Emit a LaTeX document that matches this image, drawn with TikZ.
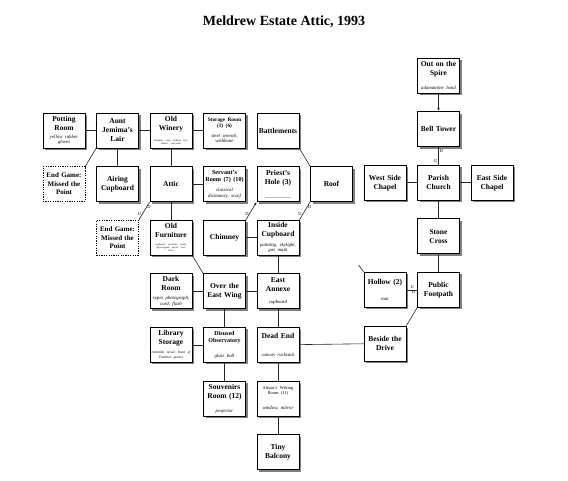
\documentclass[tikz,border=0pt]{standalone}
\usepackage{fontspec}
\setmainfont{Liberation Serif}
\usepackage{xcolor}
\usepackage{tikz}
\usetikzlibrary{positioning,shadows,arrows.meta}
\tikzset{>={Latex[length=3.2pt,width=2.6pt]}}
\newcommand{\descfont}{\normalfont\itshape\fontsize{4.8}{5.4}\selectfont}
\newcommand{\tinydesc}{\fontsize{2.5}{3}\selectfont}
\newcommand{\roomitems}[2][4pt]{\par\vspace{#1}{\descfont #2\par}}

\begin{document}
\begin{tikzpicture}[x=1pt, y=-1pt,
node distance=53.6pt and 53.5pt, on grid,
room/.style={rectangle, draw=black, line width=0.8pt, fill=white, minimum width=42pt, minimum height=35pt, text width=40pt, inner sep=1pt, align=center, font=\bfseries\fontsize{7.5}{9}\selectfont, drop shadow={shadow xshift=2pt, shadow yshift=-2pt, fill=black!50, opacity=1}},
endgame/.style={rectangle, draw=black, line width=0.8pt, dash pattern=on 1.2pt off 1.2pt, fill=white, minimum width=42pt, minimum height=35pt, text width=40pt, inner sep=1pt, align=center, font=\bfseries\fontsize{7}{8.5}\selectfont},
link/.style={draw=black!85, line width=0.6pt},
dirlabel/.style={font=\fontsize{4.5}{5}\selectfont, inner sep=0.8pt},
]
\useasboundingbox (0,0) rectangle (568,481);
\node[font=\bfseries\fontsize{14}{16}\selectfont] (title) at (284,22) {Meldrew Estate Attic, 1993};

%Rooms
\node[room](potting) at (64,130.5) {Potting\\Room\roomitems[2.5pt]{yellow rubber\\gloves}};
\node[room](jemima)[right=of potting]{Aunt\\Jemima's\\Lair};
\node[room](winery)[right=of jemima]{Old\\Winery\roomitems[7pt]{\tinydesc dirigible, rusty holding bolt,\\battery, suncream}};
\node[room](storage)[right=of winery]{\fontsize{5.3}{6}\selectfont Storage Room\\(1) (6)\roomitems[4pt]{steel wrench,\\wishbone}};
\node[room](battlements)[right=of storage]{Battlements};
\node[room](spire) at (438.5,75.5) {Out on the\\Spire\roomitems[9pt]{adamantine hand}};
\node[room](belltower)[below=of spire]{Bell Tower};

\node[room](airing)[below=of jemima]{Airing\\Cupboard};
\node[endgame](endgameA)[left=of airing]{End Game:\\Missed the\\Point};
\node[room](attic)[below=of winery]{Attic};
\node[room](servant)[below=of storage]{\fontsize{6.2}{7}\selectfont Servant's\\Room (7) (10)\roomitems[5pt]{classical\\dictionary, scarf}};
\node[room](priest)[below=of battlements]{Priest's\\Hole (3)\roomitems[8pt]{\textcolor{black!25}{\rule{26pt}{0.5pt}}}};
\node[room](roof)[right=of priest]{Roof};
\node[room](church)[below=of belltower]{Parish\\Church};
\node[room](westchapel)[left=of church]{West Side\\Chapel};
\node[room](eastchapel)[right=of church]{East Side\\Chapel};

\node[room](furniture)[below=of attic]{Old\\Furniture\roomitems[5pt]{\tinydesc cupboard, wardrobe, bottle,\\gift-wrapped parcel, bed,\\sheet}};
\node[endgame](endgameB)[left=of furniture]{End Game:\\Missed the\\Point};
\node[room](chimney)[below=of servant]{Chimney};
\node[room](insidecup)[below=of priest]{Inside\\Cupboard\roomitems[4pt]{painting, skylight,\\gas mask}};
\node[room](stonecross)[below=of church]{Stone\\Cross};

\node[room](darkroom)[below=of furniture]{Dark\\Room\roomitems[3.5pt]{sepia photograph,\\cord, flash}};
\node[room](eastwing)[right=of darkroom]{Over the\\East Wing};
\node[room](annexe)[right=of eastwing]{East\\Annexe\roomitems[6.5pt]{cupboard}};
\node[room](footpath)[below=of stonecross]{Public\\Footpath};
\node[room](hollow)[left=of footpath]{Hollow (2)\roomitems[11pt]{mat}};

\node[room](library)[below=of darkroom]{Library\\Storage\roomitems[4.5pt]{\fontsize{3.6}{4.4}\selectfont romantic novel, book of\\Twenties poetry}};
\node[room](observatory)[below=of eastwing]{\fontsize{6}{7}\selectfont Disused\\Observatory\roomitems[9pt]{glass ball}};
\node[room](deadend)[below=of annexe]{Dead End\roomitems[12pt]{canvas rucksack}};
\node[room](drive)[below=of hollow]{Beside the\\Drive};

\node[room](souvenirs)[below=of observatory]{Souvenirs\\Room (12)\roomitems[8.5pt]{projector}};
\node[room](alison)[below=of deadend]{\normalfont\fontsize{4.4}{5.4}\selectfont Alison's Writing\\Room (11)\roomitems[9.5pt]{window, mirror}};
\node[room](balcony)[below=of alison]{Tiny\\Balcony};

\coordinate[above left=7pt and 5pt of hollow.north west](hollowstub);

%Lines
\draw[link] (potting) -- (jemima);
\draw[link] (jemima) -- (winery);
\draw[link] (winery) -- (storage);
\draw[link] (jemima) -- (airing);
\draw[link] (jemima.south west) -- (endgameA.north east);
\draw[link] (winery) -- (attic);
\draw[link] (attic) -- (servant);
\draw[link] (battlements.south east) -- (roof.north west);
\draw[link] (attic) -- (furniture);
\draw[link] (attic.south west) -- node[pos=0.3,right,dirlabel]{D} node[pos=0.7,left,dirlabel]{U} (endgameB.north east);
\draw[link] (furniture.south east) -- (eastwing.north west);
\draw[link,->] (chimney.north east) -- node[pos=0.35,left,dirlabel]{D} (priest.south west);
\draw[link] (roof.south west) -- node[pos=0.3,right,dirlabel]{D} node[pos=0.7,left,dirlabel]{U} (insidecup.north east);
\draw[link] (chimney) -- (insidecup);
\draw[link] (insidecup) -- (annexe);
\draw[link] (darkroom) -- (eastwing);
\draw[link] (eastwing) -- (annexe);
\draw[link] (eastwing) -- (observatory);
\draw[link] (annexe) -- (deadend);
\draw[link] (library) -- (observatory);
\draw[link] (observatory) -- (souvenirs);
\draw[link] (deadend) -- (alison);
\draw[link] (deadend) -- (drive);
\draw[link] (alison) -- (balcony);
\draw[link,->] (spire) -- (belltower);
\draw[link] (belltower) -- node[pos=0.2,right,dirlabel]{D} node[pos=0.8,left,dirlabel]{U} (church);
\draw[link] (westchapel) -- (church);
\draw[link] (church) -- (eastchapel);
\draw[link] (church) -- (stonecross);
\draw[link] (stonecross) -- (footpath);
\draw[link] (hollow) -- node[pos=0.55,above,dirlabel]{U} node[pos=0.65,below,dirlabel]{D} (footpath);
\draw[link] (footpath.south west) -- (drive.north east);
\draw[link] (hollow.north west) -- (hollowstub);
\end{tikzpicture}
\end{document}
